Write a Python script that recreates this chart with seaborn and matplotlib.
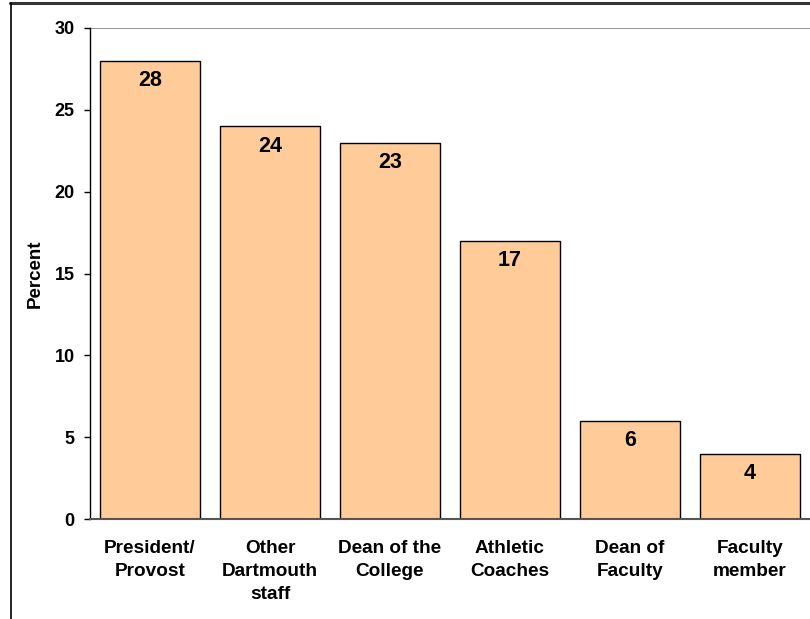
import matplotlib
matplotlib.use("Agg")
import matplotlib.pyplot as plt
import seaborn as sns
import pandas as pd
from matplotlib.lines import Line2D

categories = ["President/\nProvost", "Other\nDartmouth\nstaff", "Dean of the\nCollege",
              "Athletic\nCoaches", "Dean of\nFaculty", "Faculty\nmember"]
values = [28, 24, 23, 17, 6, 4]
yticks = [0, 5, 10, 15, 20, 25, 30]

sns.set_style("white")
plt.rcParams['font.family'] = ['Liberation Sans', 'DejaVu Sans']
plt.rcParams['text.color'] = 'black'
plt.rcParams['axes.labelcolor'] = 'black'
plt.rcParams['xtick.color'] = 'black'
plt.rcParams['ytick.color'] = 'black'

df = pd.DataFrame({"cat": categories, "val": values})

fig = plt.figure(figsize=(8.1, 6.19), dpi=100)
ax = fig.add_axes([90/810, 100/619, 720/810, 491/619])

sns.barplot(data=df, x="cat", y="val", color="#FFCC99", edgecolor="black",
            linewidth=1.0, width=100/120, saturation=1, ax=ax)

ax.set_xlim(-0.5, 5.5)
ax.set_ylim(0, 30)
ax.set_yticks(yticks)
ax.set_yticklabels([str(t) for t in yticks], fontsize=13, fontweight='bold')
ax.axhline(30, color="#808080", lw=1.2, zorder=0)

for i, v in enumerate(values):
    ax.annotate(str(v), (i, v), xytext=(0, -14.5), textcoords="offset points",
                ha="center", va="center", fontsize=15.5, fontweight="bold")

ax.set_xlabel("")
ax.set_ylabel("Percent", fontsize=13.5, fontweight="bold", labelpad=7.5)
ax.tick_params(axis='x', length=0, pad=15)
ax.tick_params(axis='y', length=4.5, width=1, direction='out', left=True, pad=6.5)
for lbl in ax.get_xticklabels():
    lbl.set_fontsize(13.7)
    lbl.set_fontweight('bold')
    lbl.set_va('top')
    lbl.set_linespacing(1.45)

ax.spines['top'].set_visible(False)
ax.spines['right'].set_visible(False)
ax.spines['left'].set_color("black")
ax.spines['left'].set_linewidth(1.0)
ax.spines['bottom'].set_color("#555555")
ax.spines['bottom'].set_linewidth(1.5)

# figure border lines (top and left)
fig.add_artist(Line2D([10/810, 1.0], [1 - 2.5/619, 1 - 2.5/619], transform=fig.transFigure,
                      color="#333333", lw=2.2))
fig.add_artist(Line2D([10.5/810, 10.5/810], [0, 1 - 2.5/619], transform=fig.transFigure,
                      color="black", lw=1.2))

fig.savefig("out.png", dpi=100)
